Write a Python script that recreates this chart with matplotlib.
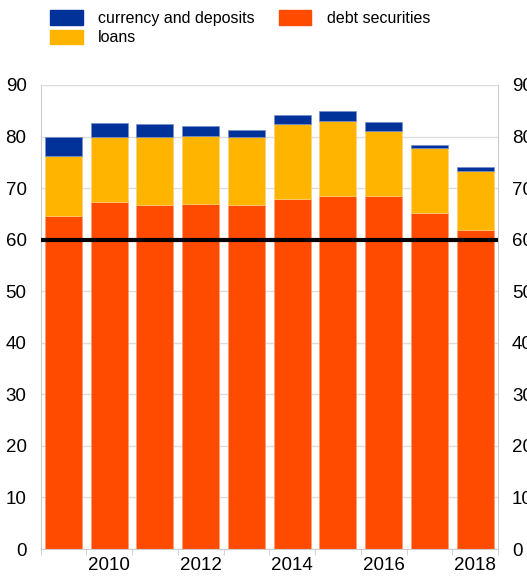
import numpy as np
import matplotlib.pyplot as plt
from matplotlib.patches import Patch

plt.rcParams['font.family'] = ['Liberation Sans', 'DejaVu Sans']

# data (% of GDP)
years = [2009, 2010, 2011, 2012, 2013, 2014, 2015, 2016, 2017, 2018]
debt_securities = [64.6, 67.4, 66.7, 67.0, 66.8, 67.9, 68.5, 68.4, 65.2, 61.8]
loans = [11.7, 12.6, 13.2, 13.2, 13.2, 14.6, 14.6, 12.7, 12.5, 11.6]
currency_deposits = [3.6, 2.7, 2.6, 1.8, 1.3, 1.7, 1.9, 1.8, 0.6, 0.6]
threshold = 60
ytick_vals = [0, 10, 20, 30, 40, 50, 60, 70, 80, 90]
xtick_years = [2010, 2012, 2014, 2016, 2018]

c_debt = '#FF4B00'
c_loans = '#FFB400'
c_cur = '#003299'

fig = plt.figure(figsize=(5.27, 5.76), dpi=100)
ax = fig.add_axes([40.5 / 527, 27 / 576, 457.5 / 527, 464 / 576])

x = np.array(years)
debt = np.array(debt_securities)
ln = np.array(loans)
cur = np.array(currency_deposits)

ax.set_axisbelow(True)
ax.grid(axis='y', color='#dddddd', linewidth=1)
ax.bar(x, debt, width=0.81, color=c_debt, edgecolor='#ff9a70', linewidth=0.5)
ax.bar(x, ln, bottom=debt, width=0.81, color=c_loans, edgecolor='#ffd27a', linewidth=0.5)
ax.bar(x, cur, bottom=debt + ln, width=0.81, color=c_cur, edgecolor='#7a8fc8', linewidth=0.5)
ax.axhline(threshold, color='black', linewidth=3, zorder=5)

ax.set_xlim(years[0] - 0.5, years[-1] + 0.5)
ax.set_ylim(0, 90)
ax.set_yticks(ytick_vals)
ax.set_xticks(xtick_years)
ax.set_xticks(np.arange(years[0] - 0.5, years[-1] + 1, 1), minor=True)
ax.tick_params(axis='x', which='major', length=0, labelsize=13.5, pad=6)
ax.tick_params(axis='x', which='minor', length=4, color='#cccccc')
# same scale repeated on the right-hand side
ax.tick_params(axis='y', length=0, labelsize=13.5, pad=10,
               labelleft=True, labelright=True)

for side in ['left', 'right', 'bottom']:
    ax.spines[side].set_color('#cccccc')
ax.spines['top'].set_visible(False)

handles = [Patch(color=c_cur, label='currency and deposits'),
           Patch(color=c_loans, label='loans'),
           Patch(color=c_debt, label='debt securities')]
fig.legend(handles=handles, ncol=2, loc='upper left', bbox_to_anchor=(0.068, 1.008),
           frameon=False, fontsize=11.5, handlelength=2.05, handleheight=1.05,
           columnspacing=1.5, handletextpad=0.95, labelspacing=0.25)

fig.savefig('out.png', dpi=100)
